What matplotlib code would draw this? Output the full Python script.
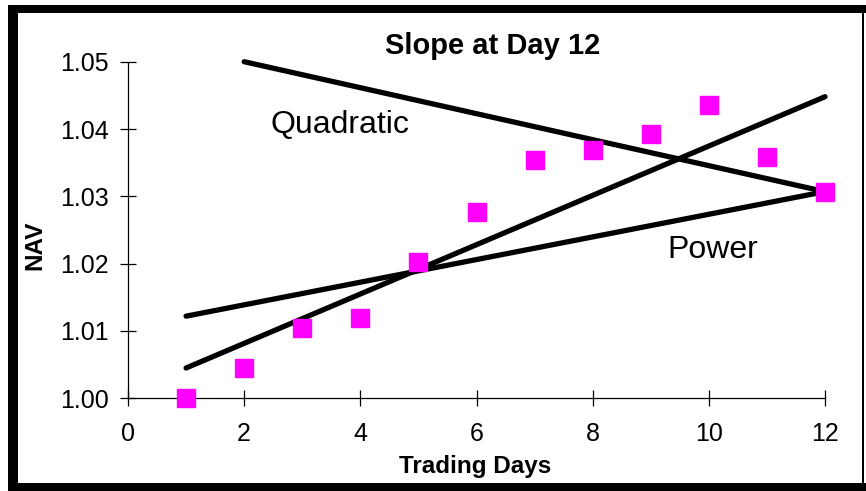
import matplotlib
matplotlib.use("Agg")
import matplotlib.pyplot as plt
from matplotlib.patches import Rectangle

plt.rcParams["font.family"] = ["Liberation Sans", "DejaVu Sans"]

# data
days = [1, 2, 3, 4, 5, 6, 7, 8, 9, 10, 11, 12]
nav = [1.0000, 1.0045, 1.0104, 1.0119, 1.0203, 1.0277, 1.0354, 1.0369,
       1.0393, 1.0436, 1.0358, 1.0307]

quad_x = [2, 12]
quad_y = [1.0500, 1.0307]
power_x = [1, 12]
power_y = [1.0122, 1.0307]
trend_x = [1, 12]
trend_y = [1.0045, 1.0448]

W, H = 866, 491
fig = plt.figure(figsize=(W / 100, H / 100), dpi=100)
ax = fig.add_axes([128 / W, 1 - 398.3 / H, 697 / W, 336.6 / H])

lw = 3.8
for xs, ys in [(quad_x, quad_y), (power_x, power_y), (trend_x, trend_y)]:
    ax.plot(xs, ys, color="black", lw=lw, solid_capstyle="round", zorder=2, clip_on=False)
ax.plot(days, nav, ls="none", marker="s", ms=12.5, color="#ff00ff",
        mec="#ff00ff", zorder=3, clip_on=False)

ax.set_xlim(0, 12)
ax.set_ylim(1.00, 1.05)
ax.set_xticks(range(0, 13, 2))
ax.set_yticks([1.00, 1.01, 1.02, 1.03, 1.04, 1.05])
ax.set_yticklabels([f"{v:.2f}" for v in ax.get_yticks()])
for s in ("top", "right"):
    ax.spines[s].set_visible(False)
for s in ("left", "bottom"):
    ax.spines[s].set_linewidth(0.9)
ax.tick_params(direction="inout", length=12, width=0.9, labelsize=18)
ax.tick_params(axis="y", pad=8)
ax.tick_params(axis="x", pad=11)

ax.text(3.65, 1.0406, "Quadratic", fontsize=23, ha="center", va="center")
ax.text(10.07, 1.0220, "Power", fontsize=23, ha="center", va="center")

fig.text(493 / W, 1 - 46 / H, "Slope at Day 12", fontsize=21, fontweight="bold",
         ha="center", va="center")
fig.text(475 / W, 1 - 467 / H, "Trading Days", fontsize=17.5, fontweight="bold",
         ha="center", va="center")
fig.text(35 / W, 1 - 245 / H, "NAV", fontsize=17.5, fontweight="bold",
         ha="center", va="center", rotation=90)

# chart frame with shadowed edges
for x0, y0, w, h in [(8, 5, 858, 8), (8, 5, 10, 486), (8, 483, 858, 8), (862, 5, 2, 486)]:
    fig.add_artist(Rectangle((x0 / W, 1 - (y0 + h) / H), w / W, h / H,
                             transform=fig.transFigure, color="black", lw=0))

fig.savefig("out.png", dpi=100)
